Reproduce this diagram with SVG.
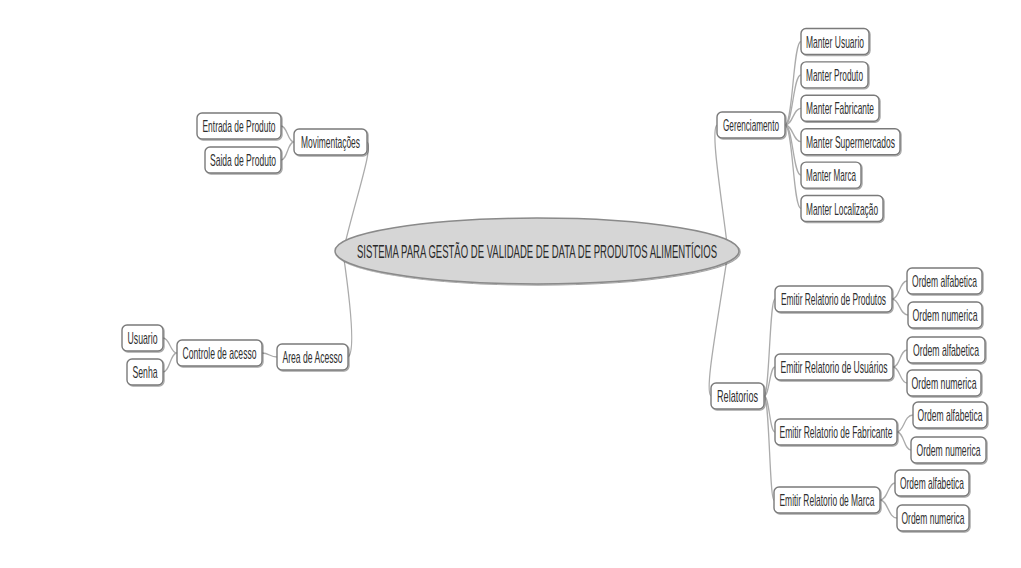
<svg xmlns="http://www.w3.org/2000/svg" width="1021" height="568" viewBox="0 0 1021 568">
<defs>
<filter id="ds" x="-20%" y="-30%" width="140%" height="160%">
<feDropShadow dx="1" dy="1" stdDeviation="0.7" flood-color="#000" flood-opacity="0.35"/>
</filter>
</defs>
<style>
.c path{fill:none;stroke:#ababab;stroke-width:1.3}
.n rect{fill:#fff;stroke:#7a7a7a;stroke-width:1.4;filter:url(#ds)}
.n text{font-family:"Liberation Sans",Arial,sans-serif;font-size:17px;fill:#2e2e2e;text-anchor:middle}
.root ellipse{fill:#d6d6d6;stroke:#8a8a8a;stroke-width:1.5;filter:url(#ds)}
.root text{font-family:"Liberation Sans",Arial,sans-serif;font-size:18px;fill:#2a2a2a;text-anchor:middle}
</style>
<rect width="1021" height="568" fill="#fff"/>
<g id="connectors" class="c">
<path d="M281,126 C287.5,126 287.5,142 294,142"/>
<path d="M281,160 C287.5,160 287.5,142 294,142"/>
<path d="M163,338 C170,338 170,353 177,353"/>
<path d="M163,372 C170,372 170,353 177,353"/>
<path d="M262,353 C269.5,353 269.5,357 277,357"/>
<path d="M367,142 C374,146 355,200 343,252"/>
<path d="M348,357 C356,352 350,300 343,252"/>
<path d="M717,125 C710,130 722,200 728,252"/>
<path d="M711,396 C704,392 718,320 728,252"/>
<path d="M785,125 C793,125 793,41.5 801,41.5"/>
<path d="M785,125 C793,125 793,74.9 801,74.9"/>
<path d="M785,125 C793,125 793,108.3 801,108.3"/>
<path d="M785,125 C793,125 793,141.7 801,141.7"/>
<path d="M785,125 C793,125 793,175.1 801,175.1"/>
<path d="M785,125 C793,125 793,208.5 801,208.5"/>
<path d="M764,396 C769.5,396 769.5,299 775,299"/>
<path d="M764,396 C769.5,396 769.5,367 775,367"/>
<path d="M764,396 C769.5,396 769.5,432 775,432"/>
<path d="M764,396 C769.5,396 769.5,500 774,500"/>
<path d="M892,299 C899.5,299 899.5,281 907,281"/>
<path d="M892,299 C899.5,299 899.5,315 908,315"/>
<path d="M893,367 C900,367 900,350 907,350"/>
<path d="M893,367 C900,367 900,383 907,383"/>
<path d="M897,432 C904,432 904,415 913,415"/>
<path d="M897,432 C904,432 904,450 911,450"/>
<path d="M880,500 C888,500 888,483 895,483"/>
<path d="M880,500 C888,500 888,518 897,518"/>
</g>
<g id="root" class="root">
<ellipse cx="537" cy="251" rx="202" ry="33"/>
<text transform="translate(537,257.5) scale(0.5,1)" textLength="720" lengthAdjust="spacingAndGlyphs">SISTEMA PARA GESTÃO DE VALIDADE DE DATA DE PRODUTOS ALIMENTÍCIOS</text>
</g>
<g id="entrada-produto" class="n"><rect x="197" y="113" width="84" height="26" rx="5"/><text transform="translate(239,132) scale(0.5,1)" textLength="146" lengthAdjust="spacingAndGlyphs">Entrada de Produto</text></g>
<g id="saida-produto" class="n"><rect x="205" y="147" width="76" height="26" rx="5"/><text transform="translate(243,166) scale(0.5,1)" textLength="132" lengthAdjust="spacingAndGlyphs">Saida de Produto</text></g>
<g id="movimentacoes" class="n"><rect x="294" y="129" width="73" height="26" rx="5"/><text transform="translate(330.5,148) scale(0.5,1)" textLength="118" lengthAdjust="spacingAndGlyphs">Movimentações</text></g>
<g id="usuario" class="n"><rect x="122" y="325" width="41" height="26" rx="5"/><text transform="translate(142.5,344) scale(0.5,1)" textLength="60" lengthAdjust="spacingAndGlyphs">Usuario</text></g>
<g id="senha" class="n"><rect x="127" y="359" width="36" height="26" rx="5"/><text transform="translate(145,378) scale(0.5,1)" textLength="50" lengthAdjust="spacingAndGlyphs">Senha</text></g>
<g id="controle-acesso" class="n"><rect x="177" y="340" width="85" height="26" rx="5"/><text transform="translate(219.5,359) scale(0.5,1)" textLength="148" lengthAdjust="spacingAndGlyphs">Controle de acesso</text></g>
<g id="area-acesso" class="n"><rect x="277" y="344" width="71" height="26" rx="5"/><text transform="translate(312.5,363) scale(0.5,1)" textLength="120" lengthAdjust="spacingAndGlyphs">Area de Acesso</text></g>
<g id="gerenciamento" class="n"><rect x="717" y="112" width="68" height="26" rx="5"/><text transform="translate(751,131) scale(0.5,1)" textLength="112" lengthAdjust="spacingAndGlyphs">Gerenciamento</text></g>
<g id="manter-usuario" class="n"><rect x="801" y="28.5" width="68" height="26" rx="5"/><text transform="translate(835,47.5) scale(0.5,1)" textLength="116" lengthAdjust="spacingAndGlyphs">Manter Usuario</text></g>
<g id="manter-produto" class="n"><rect x="801" y="61.9" width="67" height="26" rx="5"/><text transform="translate(834.5,80.9) scale(0.5,1)" textLength="114" lengthAdjust="spacingAndGlyphs">Manter Produto</text></g>
<g id="manter-fabricante" class="n"><rect x="801" y="95.3" width="78" height="26" rx="5"/><text transform="translate(840,114.3) scale(0.5,1)" textLength="136" lengthAdjust="spacingAndGlyphs">Manter Fabricante</text></g>
<g id="manter-supermercados" class="n"><rect x="801" y="128.7" width="99" height="26" rx="5"/><text transform="translate(850.5,147.7) scale(0.5,1)" textLength="178" lengthAdjust="spacingAndGlyphs">Manter Supermercados</text></g>
<g id="manter-marca" class="n"><rect x="801" y="162.1" width="60" height="26" rx="5"/><text transform="translate(831,181.1) scale(0.5,1)" textLength="100" lengthAdjust="spacingAndGlyphs">Manter Marca</text></g>
<g id="manter-localizacao" class="n"><rect x="801" y="195.5" width="82" height="26" rx="5"/><text transform="translate(842,214.5) scale(0.5,1)" textLength="144" lengthAdjust="spacingAndGlyphs">Manter Localização</text></g>
<g id="relatorios" class="n"><rect x="711" y="383" width="53" height="26" rx="5"/><text transform="translate(737.5,402) scale(0.5,1)" textLength="82" lengthAdjust="spacingAndGlyphs">Relatorios</text></g>
<g id="emitir-produtos" class="n"><rect x="775" y="286" width="117" height="26" rx="5"/><text transform="translate(833.5,305) scale(0.5,1)" textLength="210" lengthAdjust="spacingAndGlyphs">Emitir Relatorio de Produtos</text></g>
<g id="produtos-alfabetica" class="n"><rect x="907" y="268" width="75" height="26" rx="5"/><text transform="translate(944.5,287) scale(0.5,1)" textLength="130" lengthAdjust="spacingAndGlyphs">Ordem alfabetica</text></g>
<g id="produtos-numerica" class="n"><rect x="908" y="302" width="74" height="26" rx="5"/><text transform="translate(945,321) scale(0.5,1)" textLength="130" lengthAdjust="spacingAndGlyphs">Ordem numerica</text></g>
<g id="emitir-usuarios" class="n"><rect x="775" y="354" width="118" height="26" rx="5"/><text transform="translate(834,373) scale(0.5,1)" textLength="214" lengthAdjust="spacingAndGlyphs">Emitir Relatorio de Usuários</text></g>
<g id="usuarios-alfabetica" class="n"><rect x="907" y="337" width="78" height="26" rx="5"/><text transform="translate(946,356) scale(0.5,1)" textLength="132" lengthAdjust="spacingAndGlyphs">Ordem alfabetica</text></g>
<g id="usuarios-numerica" class="n"><rect x="907" y="370" width="74" height="26" rx="5"/><text transform="translate(944,389) scale(0.5,1)" textLength="130" lengthAdjust="spacingAndGlyphs">Ordem numerica</text></g>
<g id="emitir-fabricante" class="n"><rect x="775" y="419" width="122" height="26" rx="5"/><text transform="translate(836,438) scale(0.5,1)" textLength="226" lengthAdjust="spacingAndGlyphs">Emitir Relatorio de Fabricante</text></g>
<g id="fabricante-alfabetica" class="n"><rect x="913" y="402" width="74" height="26" rx="5"/><text transform="translate(950,421) scale(0.5,1)" textLength="130" lengthAdjust="spacingAndGlyphs">Ordem alfabetica</text></g>
<g id="fabricante-numerica" class="n"><rect x="911" y="437" width="75" height="26" rx="5"/><text transform="translate(948.5,456) scale(0.5,1)" textLength="128" lengthAdjust="spacingAndGlyphs">Ordem numerica</text></g>
<g id="emitir-marca" class="n"><rect x="774" y="487" width="106" height="26" rx="5"/><text transform="translate(827,506) scale(0.5,1)" textLength="190" lengthAdjust="spacingAndGlyphs">Emitir Relatorio de Marca</text></g>
<g id="marca-alfabetica" class="n"><rect x="895" y="470" width="74" height="26" rx="5"/><text transform="translate(932,489) scale(0.5,1)" textLength="128" lengthAdjust="spacingAndGlyphs">Ordem alfabetica</text></g>
<g id="marca-numerica" class="n"><rect x="897" y="505" width="72" height="26" rx="5"/><text transform="translate(933,524) scale(0.5,1)" textLength="126" lengthAdjust="spacingAndGlyphs">Ordem numerica</text></g>
</svg>
